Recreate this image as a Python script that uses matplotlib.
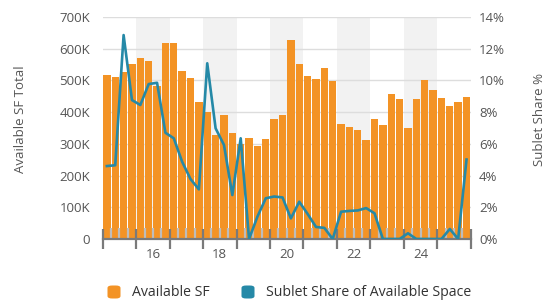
import matplotlib
matplotlib.use("Agg")
import matplotlib.pyplot as plt
from matplotlib.patches import FancyBboxPatch
from matplotlib.ticker import FixedLocator, NullFormatter
import matplotlib.transforms as mtransforms

plt.rcParams['font.family'] = ['Open Sans', 'DejaVu Sans']

# ---------------- data (quarterly, 2015 Q1 .. 2025 Q4) ----------------
start_year = 2015
available_sf = [517, 512, 528, 552, 572, 562, 483, 617, 617, 531, 507, 433,
                402, 328, 391, 333, 300, 318, 293, 315, 378, 390, 626, 552,
                514, 506, 539, 498, 362, 352, 344, 312, 378, 360, 456, 441,
                349, 442, 502, 470, 444, 420, 433, 447]  # thousands of SF
sublet_share = [4.6, 4.65, 12.86, 8.76, 8.45, 9.77, 9.85, 6.7, 6.35, 4.87, 3.78, 3.13,
                11.08, 6.98, 5.93, 2.77, 6.35, 0.0, 1.41, 2.57, 2.68, 2.62, 1.3, 2.35,
                1.58, 0.76, 0.7, 0.0, 1.72, 1.77, 1.8, 1.95, 1.62, 0.0, 0.0, 0.0,
                0.36, 0.0, 0.0, 0.0, 0.0, 0.63, 0.0, 5.01]  # percent
x_tick_years = [2016, 2018, 2020, 2022, 2024]
x_tick_labels = ["16", "18", "20", "22", "24"]
shaded_years = [2016, 2018, 2020, 2022, 2024]
left_ticks = [0, 100, 200, 300, 400, 500, 600, 700]
left_tick_labels = ["0", "100K", "200K", "300K", "400K", "500K", "600K", "700K"]
right_ticks = [0, 2, 4, 6, 8, 10, 12, 14]
right_tick_labels = ["0%", "2%", "4%", "6%", "8%", "10%", "12%", "14%"]

BAR = "#F39325"
LINE = "#2589A7"
TXT = "#555555"
FS = 9.5

n = len(available_sf)
xq = [start_year + (i + 0.5) / 4 for i in range(n)]
end_year = start_year + n // 4

fig = plt.figure(figsize=(5.56, 3.05), dpi=100)
ax = fig.add_axes([0.1847, 0.2164, 0.6619, 0.7279])

ax.set_xlim(start_year, end_year)
ax.set_ylim(0, 700)
for yr in shaded_years:
    ax.axvspan(yr, yr + 1, color="#F2F2F2", zorder=0, lw=0)
for v in left_ticks[1:]:
    ax.axhline(v, color="#DDDDDD", lw=1.0, zorder=0.5)

ax.bar(xq, available_sf, width=0.25 * 0.88, color=BAR, zorder=1, lw=0)

ax.set_yticks(left_ticks)
ax.set_yticklabels(left_tick_labels)
ax.tick_params(axis='y', length=0, pad=9, labelsize=FS, labelcolor=TXT)

majors = list(range(start_year, end_year + 1))
minors = [start_year + q / 4 for q in range(n + 1) if q % 4 != 0]
ax.xaxis.set_major_locator(FixedLocator(majors))
ax.xaxis.set_major_formatter(NullFormatter())
ax.xaxis.set_minor_locator(FixedLocator(minors))
ax.tick_params(axis='x', which='major', direction='inout', length=15, width=1.6, color="#7A7A7A")
ax.tick_params(axis='x', which='minor', direction='in', length=8, width=1.6, color="#BDBDBD")
trans = mtransforms.blended_transform_factory(ax.transData, ax.transAxes)
for yr, lab in zip(x_tick_years, x_tick_labels):
    ax.text(yr + 0.5, -0.07, lab, transform=trans, ha='center', va='center',
            fontsize=FS, color=TXT)

for s in ['left', 'right', 'top']:
    ax.spines[s].set_visible(False)
ax.spines['bottom'].set_color("#7A7A7A")
ax.spines['bottom'].set_linewidth(1.6)
ax.spines['bottom'].set_zorder(3)

ax2 = ax.twinx()
ax2.set_ylim(0, 14)
ax2.plot(xq, sublet_share, color=LINE, lw=1.9, zorder=3, solid_joinstyle='round')
ax2.set_yticks(right_ticks)
ax2.set_yticklabels(right_tick_labels)
ax2.tick_params(axis='y', length=0, pad=6, labelsize=FS, labelcolor=TXT)
for s in ['left', 'right', 'top', 'bottom']:
    ax2.spines[s].set_visible(False)

fig.text(0.036, 0.61, "Available SF Total", rotation=90, ha='center', va='center',
         fontsize=FS, color=TXT)
fig.text(0.971, 0.607, "Sublet Share %", rotation=90, ha='center', va='center',
         fontsize=FS, color=TXT)

# legend
W, H = 556.0, 305.0
ly = 1 - 292 / H
sq = 13
for cx, col, tx, lab in [(114, BAR, 131.5, "Available SF"),
                         (248, LINE, 266.5, "Sublet Share of Available Space")]:
    fig.patches.append(FancyBboxPatch(((cx - sq / 2) / W, ly - sq / 2 / H), sq / W, sq / H,
                                      boxstyle="round,pad=0,rounding_size=0.008",
                                      transform=fig.transFigure, color=col, lw=0))
    fig.text(tx / W, ly, lab, ha='left', va='center', fontsize=10.2, color="#333333")

fig.savefig("out.png", dpi=100)
